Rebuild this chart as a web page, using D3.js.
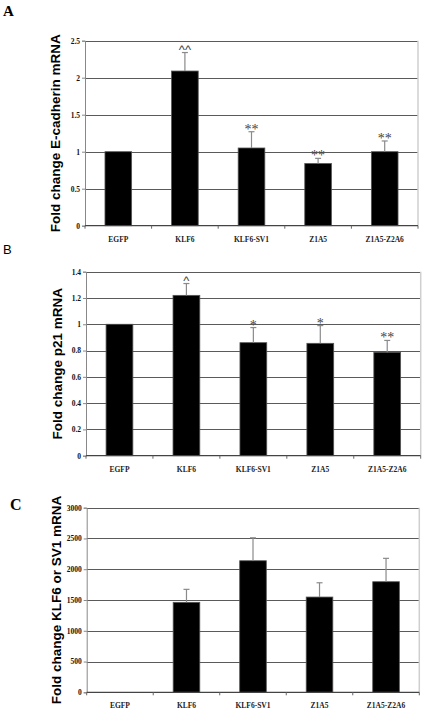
<!DOCTYPE html>
<html><head><meta charset="utf-8">
<script src="https://cdn.jsdelivr.net/npm/d3@7"></script>
<style>body{margin:0;background:#fff}svg{display:block}</style>
</head><body><svg id="c" width="425" height="711"></svg>
<script>
const categories = ["EGFP","KLF6","KLF6-SV1","Z1A5","Z1A5-Z2A6"];
const ecadMean = [1.0, 2.09, 1.05, 0.84, 1.0];
const ecadErr  = [0, 0.25, 0.22, 0.07, 0.145];
const ecadSig  = ["", "^^", "**", "**", "**"];
const ecadTicks = [0, 0.5, 1, 1.5, 2, 2.5];
const p21Mean = [1.0, 1.22, 0.86, 0.855, 0.787];
const p21Err  = [0, 0.09, 0.115, 0.135, 0.09];
const p21Sig  = ["", "^", "*", "*", "**"];
const p21Ticks = [0, 0.2, 0.4, 0.6, 0.8, 1.0, 1.2, 1.4];
const klfMean = [0, 1462, 2138, 1548, 1797];
const klfErr  = [0, 211, 373, 232, 380];
const klfSig  = ["", "", "", "", ""];
const klfTicks = [0, 500, 1000, 1500, 2000, 2500, 3000];

const svg = d3.select("#c");
const serif = "'Liberation Serif','Times New Roman',serif";
const sans = "'Liberation Sans',Arial,sans-serif";

function panel(o){
  const x = d3.scaleBand().domain(categories).range([o.left, o.right]).paddingInner(0.6).paddingOuter(0.3);
  const xb = d3.scaleBand().domain(categories).range([o.left, o.right]);
  const y = d3.scaleLinear().domain([0, o.max]).range([o.bottom, o.top]);
  const g = svg.append("g");
  g.selectAll("line.grid").data(o.ticks.filter(t=>t>0)).join("line")
    .attr("x1", o.left).attr("x2", o.right)
    .attr("y1", d=>Math.round(y(d))+0.5).attr("y2", d=>Math.round(y(d))+0.5)
    .attr("stroke", "#5a5a5a").attr("stroke-width", 1.2);
  g.append("line").attr("x1", o.right).attr("x2", o.right).attr("y1", o.top).attr("y2", o.bottom)
    .attr("stroke", "#cfcfcf").attr("stroke-width", 1.5);
  g.selectAll("rect").data(categories).join("rect")
    .attr("x", d=>x(d)).attr("width", x.bandwidth())
    .attr("y", (d,i)=>y(o.mean[i])).attr("height", (d,i)=>o.bottom - y(o.mean[i]))
    .attr("fill", "#000").attr("stroke", "#555").attr("stroke-width", 0.8);
  categories.forEach((c,i)=>{
    if(!o.err[i]) return;
    const cx = x(c) + x.bandwidth()/2;
    const yt = y(o.mean[i] + o.err[i]);
    g.append("line").attr("x1", cx).attr("x2", cx).attr("y1", y(o.mean[i])).attr("y2", yt)
      .attr("stroke", "#8a8a8a").attr("stroke-width", 1.2);
    g.append("line").attr("x1", cx-3).attr("x2", cx+3).attr("y1", yt).attr("y2", yt)
      .attr("stroke", "#8a8a8a").attr("stroke-width", 1.2);
    if(o.sig[i]){
      const caret = o.sig[i].includes("^");
      g.append("text").attr("x", cx).attr("y", caret ? yt + 1 : yt + 2)
        .attr("text-anchor", "middle").attr("font-family", caret ? sans : serif)
        .attr("font-size", caret ? 13 : 14).attr("fill", "#444")
        .text(o.sig[i]);
    }
  });
  const ya = d3.axisLeft(y).tickValues(o.ticks).tickSize(3).tickFormat(o.fmt);
  const yg = g.append("g").attr("transform", `translate(${o.left},0)`).call(ya);
  yg.select(".domain").attr("stroke", "#888");
  yg.selectAll(".tick line").attr("stroke", "#888");
  yg.selectAll("text").attr("font-family", serif).attr("font-weight", "bold").attr("font-size", 7.5).attr("fill", "#111").attr("x", -5);
  g.append("line").attr("x1", o.left).attr("x2", o.right).attr("y1", o.bottom).attr("y2", o.bottom)
    .attr("stroke", "#444").attr("stroke-width", 1.2);
  const bounds = categories.map(c=>xb(c)).concat([o.right]);
  g.selectAll("line.xt").data(bounds).join("line")
    .attr("x1", d=>d).attr("x2", d=>d).attr("y1", o.bottom).attr("y2", o.bottom+3)
    .attr("stroke", "#666");
  g.selectAll("text.xl").data(categories).join("text")
    .attr("x", d=>x(d)+x.bandwidth()/2).attr("y", o.bottom + 16)
    .attr("text-anchor", "middle").attr("font-family", serif).attr("font-weight", "bold")
    .attr("font-size", 7.5).attr("fill", "#222").text(d=>d);
  g.append("text").attr("transform", `translate(${o.titleX},${(o.top+o.bottom)/2}) rotate(-90)`)
    .attr("text-anchor", "middle").attr("font-family", sans).attr("font-weight", "bold")
    .attr("font-size", 13.5).attr("dy", "0.35em").text(o.title);
  g.append("text").attr("x", o.lx).attr("y", o.ly).attr("font-family", o.lfont)
    .attr("font-weight", o.lweight).attr("font-size", o.lsize).text(o.letter);
}

panel({left:85, right:418, top:40.7, bottom:225.7, max:2.5, ticks:ecadTicks, fmt:d3.format("~g"),
  mean:ecadMean, err:ecadErr, sig:ecadSig, title:"Fold change E-cadherin mRNA", titleX:55,
  letter:"A", lx:3, ly:16, lfont:serif, lweight:"bold", lsize:15});
panel({left:86, right:420.7, top:271.7, bottom:455.7, max:1.4, ticks:p21Ticks, fmt:d3.format("~g"),
  mean:p21Mean, err:p21Err, sig:p21Sig, title:"Fold change p21 mRNA", titleX:57,
  letter:"B", lx:3, ly:254, lfont:sans, lweight:"normal", lsize:13});
panel({left:86.7, right:419.3, top:507.7, bottom:692.3, max:3000, ticks:klfTicks, fmt:d3.format("d"),
  mean:klfMean, err:klfErr, sig:klfSig, title:"Fold change KLF6 or SV1 mRNA", titleX:56,
  letter:"C", lx:10, ly:510, lfont:serif, lweight:"bold", lsize:16});
</script></body></html>
